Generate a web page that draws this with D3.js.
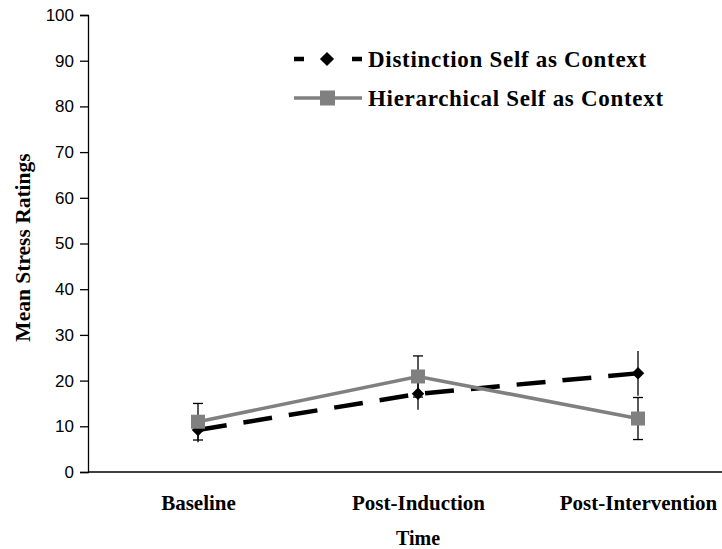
<!DOCTYPE html>
<html>
<head>
<meta charset="utf-8">
<script src="https://cdn.jsdelivr.net/npm/d3@7"></script>
<style>
  body { margin: 0; background: #fff; }
  svg { display: block; }
</style>
</head>
<body>
<div id="chart"></div>
<script>
// Mean stress ratings across time for two self-as-context conditions
const timePoints = ['Baseline', 'Post-Induction', 'Post-Intervention'];
const distinctionMeans = [9.2, 17.1, 21.6];
const distinctionErrors = [2.7, 3.5, 4.9];
const hierarchicalMeans = [11.0, 20.9, 11.7];
const hierarchicalErrors = [4.0, 4.5, 4.6];
const yTicks = [0, 10, 20, 30, 40, 50, 60, 70, 80, 90, 100];

const seriesNames = ['Distinction Self as Context', 'Hierarchical Self as Context'];

const W = 722, H = 549;
const margin = { top: 15, left: 88, bottom: 77 };
const plotW = 660;

const svg = d3.select('#chart').append('svg')
    .attr('width', W)
    .attr('height', H);

const x = d3.scalePoint()
    .domain(timePoints)
    .range([margin.left, margin.left + plotW])
    .padding(0.5);

const y = d3.scaleLinear()
    .domain([0, 100])
    .range([H - margin.bottom, margin.top]);

const serif = '"Liberation Serif", "Times New Roman", serif';
const sans = '"Liberation Sans", Arial, sans-serif';

// y axis
const yAxis = svg.append('g')
    .attr('transform', `translate(${margin.left},0)`)
    .call(d3.axisLeft(y).tickValues(yTicks).tickSize(8).tickPadding(6));
yAxis.select('.domain').attr('stroke', '#000').attr('stroke-width', 1.3);
yAxis.selectAll('.tick line').attr('stroke', '#000').attr('stroke-width', 1.3);
yAxis.selectAll('.tick text')
    .style('font-family', sans)
    .style('font-size', '17px')
    .attr('fill', '#000');

// x axis: plain line, labels below
const xAxis = svg.append('g')
    .attr('transform', `translate(0,${y(0)})`)
    .call(d3.axisBottom(x).tickSize(0));
xAxis.select('.domain')
    .attr('d', `M${margin.left},0H${margin.left + plotW}`)
    .attr('stroke', '#000').attr('stroke-width', 1.3);
xAxis.selectAll('.tick text')
    .attr('y', 38)
    .attr('dy', 0)
    .style('font-family', serif)
    .style('font-weight', 'bold')
    .style('font-size', '21px')
    .attr('fill', '#000');

// axis titles
svg.append('text')
    .attr('x', x('Post-Induction'))
    .attr('y', 545)
    .attr('text-anchor', 'middle')
    .style('font-family', serif)
    .style('font-weight', 'bold')
    .style('font-size', '20px')
    .text('Time');

svg.append('text')
    .attr('transform', `translate(30,${(y(0) + y(100)) / 2 + 4}) rotate(-90)`)
    .attr('text-anchor', 'middle')
    .style('font-family', serif)
    .style('font-weight', 'bold')
    .style('font-size', '21.5px')
    .text('Mean Stress Ratings');

const line = d3.line()
    .x((d, i) => x(timePoints[i]))
    .y(d => y(d));

// Distinction series: error bars without caps, dashed black line, diamonds
const gD = svg.append('g');
gD.selectAll('line.err')
    .data(distinctionMeans)
    .join('line')
    .attr('class', 'err')
    .attr('x1', (d, i) => x(timePoints[i]))
    .attr('x2', (d, i) => x(timePoints[i]))
    .attr('y1', (d, i) => y(d - distinctionErrors[i]))
    .attr('y2', (d, i) => y(d + distinctionErrors[i]))
    .attr('stroke', '#000')
    .attr('stroke-width', 1.3);
gD.append('path')
    .datum(distinctionMeans)
    .attr('d', line)
    .attr('fill', 'none')
    .attr('stroke', '#000')
    .attr('stroke-width', 4.5)
    .attr('stroke-dasharray', '29,17');
const diamond = d3.symbol().type(d3.symbolDiamond2).size(100);
gD.selectAll('path.mark')
    .data(distinctionMeans)
    .join('path')
    .attr('class', 'mark')
    .attr('transform', (d, i) => `translate(${x(timePoints[i])},${y(d)})`)
    .attr('d', diamond)
    .attr('fill', '#000');

// Hierarchical series: capped error bars, solid gray line, squares
const gH = svg.append('g');
const errH = gH.selectAll('g.err')
    .data(hierarchicalMeans)
    .join('g')
    .attr('class', 'err')
    .attr('transform', (d, i) => `translate(${x(timePoints[i])},0)`);
errH.append('line')
    .attr('y1', (d, i) => y(d - hierarchicalErrors[i]))
    .attr('y2', (d, i) => y(d + hierarchicalErrors[i]))
    .attr('stroke', '#000').attr('stroke-width', 1.3);
errH.append('line')
    .attr('x1', -5).attr('x2', 5)
    .attr('y1', (d, i) => y(d - hierarchicalErrors[i]))
    .attr('y2', (d, i) => y(d - hierarchicalErrors[i]))
    .attr('stroke', '#000').attr('stroke-width', 1.3);
errH.append('line')
    .attr('x1', -5).attr('x2', 5)
    .attr('y1', (d, i) => y(d + hierarchicalErrors[i]))
    .attr('y2', (d, i) => y(d + hierarchicalErrors[i]))
    .attr('stroke', '#000').attr('stroke-width', 1.3);
gH.append('path')
    .datum(hierarchicalMeans)
    .attr('d', line)
    .attr('fill', 'none')
    .attr('stroke', '#808080')
    .attr('stroke-width', 3.6);
gH.selectAll('rect.mark')
    .data(hierarchicalMeans)
    .join('rect')
    .attr('class', 'mark')
    .attr('x', (d, i) => x(timePoints[i]) - 7)
    .attr('y', d => y(d) - 7)
    .attr('width', 14)
    .attr('height', 14)
    .attr('fill', '#808080');

// legend
const legend = svg.append('g').attr('transform', 'translate(294,59)');
const rows = legend.selectAll('g')
    .data(seriesNames)
    .join('g')
    .attr('transform', (d, i) => `translate(0,${i * 39})`);
rows.append('line')
    .attr('x1', 0).attr('x2', 68)
    .attr('stroke', (d, i) => i === 0 ? '#000' : '#808080')
    .attr('stroke-width', (d, i) => i === 0 ? 4.5 : 3.6)
    .attr('stroke-dasharray', (d, i) => i === 0 ? '10,48,10' : null);
rows.filter((d, i) => i === 0).append('path')
    .attr('transform', 'translate(33,0)')
    .attr('d', d3.symbol().type(d3.symbolDiamond2).size(128))
    .attr('fill', '#000');
rows.filter((d, i) => i === 1).append('rect')
    .attr('x', 26).attr('y', -7.5)
    .attr('width', 15).attr('height', 15)
    .attr('fill', '#808080');
rows.append('text')
    .attr('x', 74)
    .attr('dy', '0.35em')
    .style('font-family', serif)
    .style('font-weight', 'bold')
    .style('font-size', '23px')
    .style('letter-spacing', '0.7px')
    .text(d => d);
</script>
</body>
</html>
